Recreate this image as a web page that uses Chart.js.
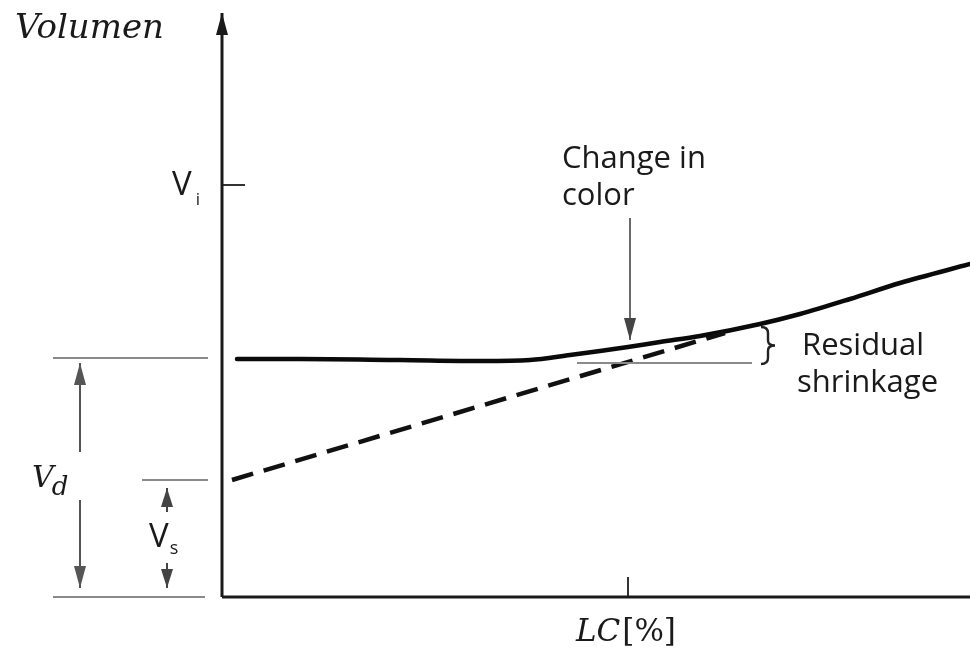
<!DOCTYPE html>
<html><head><meta charset="utf-8">
<script src="https://cdn.jsdelivr.net/npm/chart.js@4.4.1/dist/chart.umd.min.js"></script>
<style>html,body{margin:0;padding:0;background:#fff;overflow:hidden}canvas{display:block}</style>
</head><body>
<canvas id="c" width="970" height="652"></canvas>
<script>
// x: LC units (0 at the axes origin); y: Volumen units (0 at the axes origin)
const curveLC  = [15, 78, 178, 261, 308, 348, 378, 406, 438, 478, 538, 578, 628, 678, 748];
const curveVol = [238, 238, 237, 236, 237, 242, 246, 250, 255, 261, 273, 283, 298, 314, 333];
const dashedLC  = [10, 503];
const dashedVol = [117, 264];
const axisMaxLC = 748, axisMaxVol = 584;
const tickLC = 406, tickVi = 412;
const levelVd = 239, levelVs = 117, levelResidual = 234;
const residualLC = [355, 530];
const colorChangeLC = 408, colorChangeVol = [379, 257];
const braceVol = [270, 233];

function pts(xs, ys){ return xs.map((x,i)=>({x:x, y:ys[i]})); }
function seg(x1,y1,x2,y2,color,width,dash){
  return {data:[{x:x1,y:y1},{x:x2,y:y2}], showLine:true, borderColor:color, borderWidth:width,
          borderDash:dash||[], pointRadius:0, fill:false, tension:0, borderCapStyle:'butt'};
}
const GUIDE = '#8a8a8a';
const datasets = [
  // axes
  seg(0, 0, 0, axisMaxVol - 15, '#1a1a1a', 3),
  seg(0, 0, axisMaxLC, 0, '#1a1a1a', 3),
  // ticks
  seg(0, tickVi, 23, tickVi, '#333', 2),
  seg(tickLC, 0, tickLC, 20, '#333', 2),
  // guide levels on the left
  seg(-169, levelVd, -14, levelVd, GUIDE, 2),
  seg(-80, levelVs, -14, levelVs, GUIDE, 2),
  seg(-169, 0, -17, 0, GUIDE, 2),
  // residual shrinkage level
  seg(residualLC[0], levelResidual, residualLC[1], levelResidual, GUIDE, 2),
  // dashed extrapolation
  {data: pts(dashedLC, dashedVol), showLine:true, borderColor:'#111', borderWidth:4.5, borderDash:[22,11],
   pointRadius:0, tension:0, borderCapStyle:'butt'},
  // measured curve
  {data: pts(curveLC, curveVol), showLine:true, borderColor:'#0a0a0a', borderWidth:4.5,
   pointRadius:0, cubicInterpolationMode:'monotone', borderCapStyle:'round'}
];

const arrows = [
  {x1:0, y1:axisMaxVol-20, x2:0, y2:axisMaxVol, head:'end', color:'#1a1a1a', w:3, hl:22, hw:6},
  {x1:-142, y1:levelVd-5, x2:-142, y2:9, head:'both', color:'#555', w:2, hl:22, hw:6},
  {x1:-55, y1:85, x2:-55, y2:109, head:'end', color:'#444', w:2, hl:19, hw:6},
  {x1:-55, y1:34, x2:-55, y2:9, head:'end', color:'#444', w:2, hl:19, hw:6},
  {x1:colorChangeLC, y1:colorChangeVol[0], x2:colorChangeLC, y2:colorChangeVol[1], head:'end', color:'#444', w:1.6, hl:22, hw:6}
];

const SERIF_I = 'italic 34px "DejaVu Serif"';
const SANS = '500 31px "Open Sans"';
// text: [lc, vol] anchors (left / baseline)
const labels = [
  {at:[-207, 559], parts:[{t:'Volumen', f:SERIF_I}]},
  {at:[-190, 110], box:[-192, 145, -80, 97], parts:[{t:'V', f:'italic 30px "DejaVu Serif"'},{t:'d', f:'italic 26px "DejaVu Serif"', dy:8, dx:-2}]},
  {at:[-50, 402], parts:[{t:'V', f:'500 33px "Open Sans"'},{t:'i', f:'500 17px "Open Sans"', dy:10, dx:4}]},
  {at:[-73, 50], parts:[{t:'V', f:'500 33px "Open Sans"'},{t:'s', f:'500 18px "Open Sans"', dy:7, dx:1}]},
  {at:[340, 429], parts:[{t:'Change in', f:SANS}]},
  {at:[340, 392], parts:[{t:'color', f:SANS}]},
  {at:[580, 242], parts:[{t:'Residual', f:SANS}]},
  {at:[575, 205], parts:[{t:'shrinkage', f:SANS}]},
  {at:[354, -44], parts:[{t:'LC', f:'italic 31px "DejaVu Serif"'},{t:'[%]', f:'31px "DejaVu Serif"', dx:2}]}
];

const annot = {
  id:'annot',
  afterDatasetsDraw(chart){
    const ctx = chart.ctx, X = chart.scales.x, Y = chart.scales.y;
    const px = v => X.getPixelForValue(v), py = v => Y.getPixelForValue(v);
    ctx.save();
    // arrows
    arrows.forEach(a=>{
      const x1=px(a.x1), y1=py(a.y1), x2=px(a.x2), y2=py(a.y2);
      ctx.strokeStyle=a.color; ctx.fillStyle=a.color; ctx.lineWidth=a.w;
      const ang=Math.atan2(y2-y1,x2-x1);
      ctx.beginPath(); ctx.moveTo(x1,y1); ctx.lineTo(x2,y2); ctx.stroke();
      const head=(x,y,an)=>{
        ctx.beginPath(); ctx.moveTo(x,y);
        ctx.lineTo(x-a.hl*Math.cos(an)+a.hw*Math.sin(an), y-a.hl*Math.sin(an)-a.hw*Math.cos(an));
        ctx.lineTo(x-a.hl*Math.cos(an)-a.hw*Math.sin(an), y-a.hl*Math.sin(an)+a.hw*Math.cos(an));
        ctx.closePath(); ctx.fill();
      };
      head(x2,y2,ang);
      if(a.head==='both') head(x1,y1,ang+Math.PI);
    });
    // brace
    const bx=px(residualLC[1]+14), bt=py(braceVol[0]), bb=py(braceVol[1]), bm=(bt+bb)/2;
    ctx.strokeStyle='#222'; ctx.lineWidth=2.4;
    ctx.beginPath();
    ctx.moveTo(bx-5, bt);
    ctx.quadraticCurveTo(bx+2, bt, bx+2, bt+6);
    ctx.lineTo(bx+2, bm-5);
    ctx.quadraticCurveTo(bx+2, bm, bx+9, bm);
    ctx.quadraticCurveTo(bx+2, bm, bx+2, bm+5);
    ctx.lineTo(bx+2, bb-6);
    ctx.quadraticCurveTo(bx+2, bb, bx-5, bb);
    ctx.stroke();
    // labels
    ctx.textBaseline='alphabetic'; ctx.textAlign='left';
    labels.forEach(l=>{
      if(l.box){
        ctx.fillStyle='#fff';
        const x1=px(l.box[0]), y1=py(l.box[1]), x2=px(l.box[2]), y2=py(l.box[3]);
        ctx.fillRect(x1,y1,x2-x1,y2-y1);
      }
      let x=px(l.at[0]); const y=py(l.at[1]);
      ctx.fillStyle='#1a1a1a';
      l.parts.forEach(p=>{
        ctx.font=p.f; x+=(p.dx||0);
        ctx.fillText(p.t, x, y+(p.dy||0));
        x+=ctx.measureText(p.t).width;
      });
    });
    ctx.restore();
  }
};

new Chart(document.getElementById('c'), {
  type:'scatter',
  data:{datasets:datasets},
  options:{
    responsive:false, animation:false, devicePixelRatio:1,
    layout:{padding:0},
    plugins:{legend:{display:false}, tooltip:{enabled:false}, title:{display:false}},
    scales:{
      x:{type:'linear', min:-222, max:748, display:false},
      y:{type:'linear', min:-55, max:597, display:false}
    }
  },
  plugins:[annot]
});
</script>
</body></html>
